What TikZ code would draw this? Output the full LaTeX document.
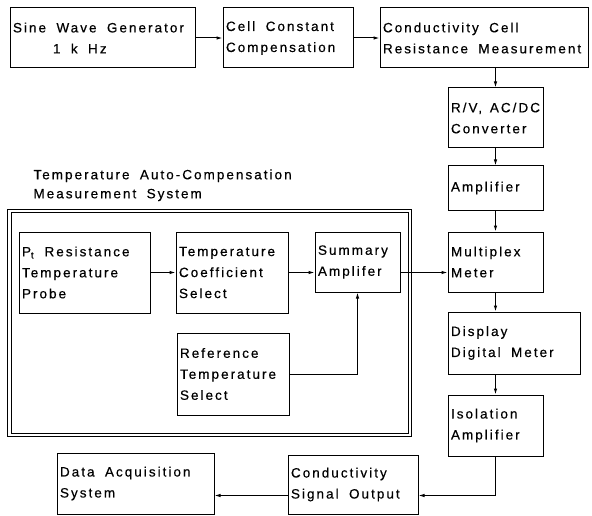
\documentclass[tikz,border=0pt]{standalone}
\usepackage{fontspec}
\setmainfont{Liberation Sans}[LetterSpace=15, WordSpace=1.8, FakeBold=0.4]
\usepackage{tikz}
\usetikzlibrary{arrows.meta}

\begin{document}
\begin{tikzpicture}[
    x=1pt, y=-1pt,
    line width=1pt,
    blk/.style={rectangle, draw, align=left, inner xsep=3pt, inner ysep=2pt,
        font=\fontsize{13.5}{21}\selectfont,
        execute at begin node={\spaceskip=0pt\xspaceskip=0pt\relax}},
    arr/.style={-{Latex[length=6pt, width=3.5pt]}},
    frame/.style={double, double distance=2.6pt, line width=0.9pt}
]
\useasboundingbox (0,0) rectangle (592,516);

\node[blk, text width=179pt, minimum height=60pt] (sine) at (102.5,38) {Sine Wave Generator\\\hspace*{40pt}1 k Hz};
    \node[blk, text width=124pt, minimum height=60pt] (cell) at (288,38) {Cell Constant\\Compensation};
    \node[blk, text width=202pt, minimum height=60pt] (cond) at (484,38) {Conductivity Cell\\Resistance Measurement};

\node[blk, text width=89pt, minimum height=60pt] (rv) at (495.5,118) {R/V, AC/DC\\Converter};
    \node[blk, text width=89pt, minimum height=44pt] (amp) at (495.5,188) {Amplifier};
    \node[blk, text width=89pt, minimum height=60pt] (mux) at (495.5,262) {Multiplex\\Meter};
    \node[blk, text width=126pt, minimum height=62pt] (disp) at (514,343) {Display\\Digital Meter};
    \node[blk, text width=89pt, minimum height=61pt] (iso) at (495.5,425.5) {Isolation\\Amplifier};

\node[blk, text width=124pt, minimum height=59pt] (cso) at (353,484.5) {Conductivity\\Signal Output};
    \node[blk, text width=151pt, minimum height=61pt] (daq) at (135.5,483.5) {Data Acquisition\\System};

\node[anchor=north west, align=left, inner sep=0pt, font=\fontsize{13.5}{19}\selectfont] (title) at (33,169) {Temperature Auto-Compensation\\Measurement System};
    \draw[frame] (9.5,211) rectangle (410,435);

\node[blk, text width=125pt, minimum height=81pt] (pt) at (84.5,272.5) {P\textsubscript{t} Resistance\\Temperature\\Probe};
    \node[blk, text width=106pt, minimum height=81pt] (tc) at (232,272.5) {Temperature\\Coefficient\\Select};
    \node[blk, text width=79pt, minimum height=60pt] (sum) at (357.5,262) {Summary\\Amplifer};
    \node[blk, text width=106pt, minimum height=82pt] (ref) at (233,374) {Reference\\Temperature\\Select};

\draw[arr] (sine) -- (cell);
    \draw[arr] (cell) -- (cond);
    \draw[arr] (cond.south -| rv.north) -- (rv.north);
    \draw[arr] (rv) -- (amp);
    \draw[arr] (amp) -- (mux);
    \draw[arr] (mux.south) -- (mux.south |- disp.north);
    \draw[arr] (disp.south -| iso.north) -- (iso.north);
    \draw[arr] (iso.south) |- ([yshift=-11pt]cso.east);
    \draw[arr] ([yshift=-11pt]cso.west) -- ([yshift=-11pt]cso.west -| daq.east);

\draw[arr] (pt) -- (tc);
    \draw[arr] (tc.east) -- (tc.east -| sum.west);
    \draw[arr] (sum.east |- tc.east) -- (mux.west |- tc.east);
    \draw[arr] (ref.east) -| (sum.south);
\end{tikzpicture}
\end{document}
